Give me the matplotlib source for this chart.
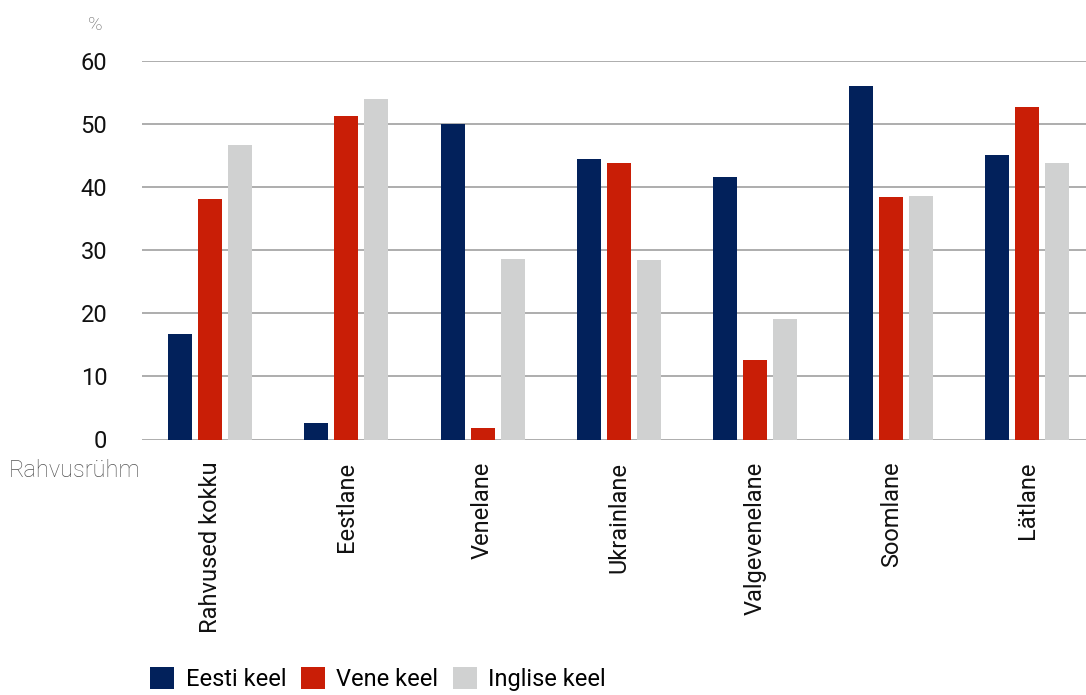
import numpy as np
import matplotlib
matplotlib.use("Agg")
import matplotlib.pyplot as plt
from matplotlib.patches import Patch

plt.rcParams['font.family'] = ['Roboto', 'DejaVu Sans']

# Data
groups = ["Rahvused kokku", "Eestlane", "Venelane", "Ukrainlane",
          "Valgevenelane", "Soomlane", "Lätlane"]
series_names = ["Eesti keel", "Vene keel", "Inglise keel"]
eesti = [16.7, 2.6, 50.0, 44.4, 41.6, 56.0, 45.1]
vene = [38.1, 51.3, 1.8, 43.8, 12.6, 38.4, 52.7]
inglise = [46.7, 54.0, 28.6, 28.4, 19.1, 38.6, 43.8]
colors = ["#02215B", "#C91E06", "#D0D1D1"]

fig = plt.figure(figsize=(10.86, 6.95), dpi=100)
ax = fig.add_axes([142 / 1086, 1 - 439.5 / 695, 1 - 142 / 1086, (439.5 - 61) / 695])

x = np.arange(len(groups))
w = 0.176
step = 0.22
for i, (vals, c) in enumerate(zip([eesti, vene, inglise], colors)):
    ax.bar(x + (i - 1) * step, vals, width=w, color=c, zorder=3)

ax.set_ylim(0, 60)
ax.set_xlim(-0.5, 6.43)
ax.set_yticks(range(0, 61, 10))
ax.yaxis.grid(True, color="#A0A0A0", linewidth=1.2, zorder=0)
ax.set_axisbelow(True)
for s in ax.spines.values():
    s.set_visible(False)
ax.tick_params(axis="y", length=0, pad=25, labelsize=17, labelcolor="#111111")
ax.tick_params(axis="x", length=0, pad=16)
ax.set_xticks(x)
ax.set_xticklabels(groups, rotation=90, fontsize=17, color="#111111", va="top")

# axis captions
fig.text(95 / 1086, 1 - 25 / 695, "%", fontsize=14, color="#666666",
         fontweight="light", ha="center", va="center")
fig.text(9 / 1086, 1 - 470 / 695, "Rahvusrühm", fontsize=17, color="#555555",
         fontweight="light", ha="left", va="center")

handles = [Patch(facecolor=c, edgecolor="none") for c in colors]
fig.legend(handles, series_names, loc="lower left", bbox_to_anchor=(141 / 1086, -0.008),
           ncol=3, frameon=False, fontsize=17, handlelength=1.0, handleheight=1.0,
           handletextpad=0.5, columnspacing=0.62, borderaxespad=0)

fig.savefig("out.png", dpi=100)
